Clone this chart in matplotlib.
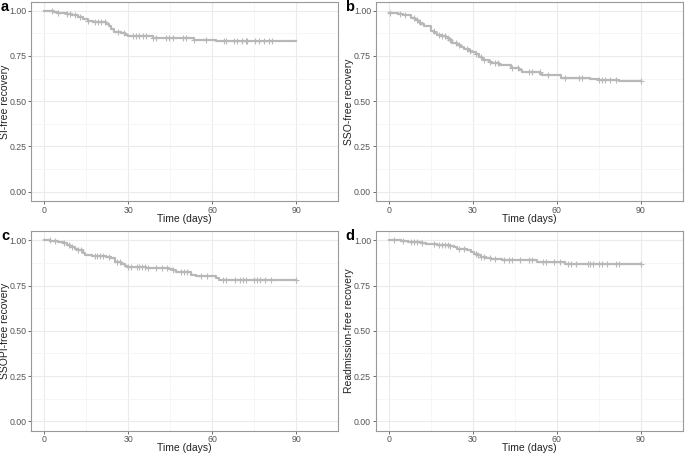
import numpy as np
import matplotlib
matplotlib.use("Agg")
import matplotlib.pyplot as plt

plt.rcParams['font.family'] = ['Liberation Sans', 'DejaVu Sans']

# ---- data ----
a_times = [0, 3.5, 5, 8, 10, 12, 14, 15.5, 17.5, 22, 23, 24, 25, 27.5, 29, 30, 38.8, 53.5, 61.5, 90]
a_surv  = [1.00, 0.995, 0.99, 0.98, 0.975, 0.965, 0.955, 0.945, 0.935, 0.925, 0.915, 0.90, 0.885,
           0.875, 0.865, 0.86, 0.85, 0.84, 0.833, 0.833]
a_cens  = [2.7, 5, 8, 9.2, 11, 12.8, 15.7, 18, 19.3, 20.4, 21.6, 26.4, 28.4, 31.7, 32.9, 34, 35.2,
           36.4, 39, 40, 43.5, 44.7, 45.9, 49.4, 50.6, 53.5, 57.7, 64.2, 64.8, 67.7, 68.9, 70.7,
           71.9, 72.5, 75.4, 76.6, 78.4, 80.1, 81.3]

b_times = [0, 1.4, 3.2, 5, 7.9, 9.5, 10.3, 11.1, 12.7, 15, 16.2, 17.4, 19, 20.4, 21.6, 22.5, 24.2,
           25.7, 26.9, 28.7, 29.9, 31, 32.2, 33.2, 34, 35.8, 37, 39.3, 43.5, 46.4, 47.6, 54.1, 54.7,
           61.3, 71.9, 74.9, 82, 90]
b_surv  = [0.99, 0.987, 0.98, 0.975, 0.96, 0.95, 0.94, 0.925, 0.915, 0.886, 0.877, 0.868, 0.86,
           0.85, 0.84, 0.82, 0.81, 0.80, 0.79, 0.78, 0.77, 0.76, 0.745, 0.735, 0.725, 0.715, 0.71,
           0.70, 0.685, 0.675, 0.66, 0.65, 0.645, 0.63, 0.625, 0.62, 0.612, 0.612]
b_cens  = [0.5, 4, 6, 9, 10, 11, 16, 18, 19, 20, 21, 22, 24, 25, 28, 29, 31, 33, 34, 36, 38, 39,
           44, 46, 50, 51, 54, 57, 63, 68, 69, 75, 76, 77, 79, 81, 90]

c_times = [0, 2.1, 5, 6.9, 8, 9.3, 11, 12, 14, 14.5, 17, 22.2, 24, 25.2, 27.5, 28.7, 29.9, 36.4,
           44.7, 45.9, 47, 52.4, 54.1, 60, 61.2, 62.4, 90]
c_surv  = [1.00, 0.997, 0.99, 0.983, 0.972, 0.963, 0.954, 0.945, 0.93, 0.92, 0.915, 0.908, 0.90,
           0.88, 0.87, 0.86, 0.853, 0.845, 0.84, 0.833, 0.825, 0.81, 0.805, 0.80, 0.79, 0.779, 0.779]
c_cens  = [2, 4, 7, 9, 10, 12, 13, 18, 19, 20, 21, 23, 26, 27, 30, 31, 33, 34, 35, 36, 37, 40,
           42, 44, 46, 49, 50, 51, 56, 58, 64, 65, 68, 70, 71, 72, 75, 76, 77, 79, 81, 90]

d_times = [0, 4.4, 6.8, 9.1, 11.5, 13.3, 15, 17.4, 21.6, 23.3, 24.5, 28, 29.3, 30.5, 31.6, 32.8,
           34.6, 36.4, 40.5, 53, 63, 64.2, 90]
d_surv  = [1.00, 0.996, 0.993, 0.989, 0.985, 0.982, 0.978, 0.972, 0.967, 0.96, 0.952, 0.945,
           0.934, 0.926, 0.917, 0.908, 0.903, 0.897, 0.893, 0.882, 0.871, 0.868, 0.868]
d_cens  = [2, 5, 8, 9, 10, 12, 16, 18, 19, 20, 21, 22, 25, 27, 31, 32, 33, 34, 36, 38, 41, 43,
           44, 47, 50, 51, 55, 56, 59, 61, 64, 65, 67, 71, 72, 73, 75, 76, 78, 81, 82, 90]

panels = [
    ("a", "SI-free recovery", a_times, a_surv, a_cens),
    ("b", "SSO-free recovery", b_times, b_surv, b_cens),
    ("c", "SSOPI-free recovery", c_times, c_surv, c_cens),
    ("d", "Readmission-free recovery", d_times, d_surv, d_cens),
]
x_ticks = [0, 30, 60, 90]
y_ticks = [0.0, 0.25, 0.50, 0.75, 1.00]
y_ticklabels = ["0.00", "0.25", "0.50", "0.75", "1.00"]

W, H = 685, 454
fig = plt.figure(figsize=(W / 100, H / 100), dpi=100)

boxes = [  # left, top, right, bottom in pixels
    (31, 1.5, 338.3, 201.3),
    (375.5, 1.5, 683, 201.3),
    (31, 231, 338.3, 431),
    (375.5, 231, 683, 431),
]

line_col = "#b8b8b8"
for (letter, ylabel, t, s, cens), (l, tp, r, b) in zip(panels, boxes):
    ax = fig.add_axes([l / W, (H - b) / H, (r - l) / W, (b - tp) / H])
    ax.set_xlim(-4.7, 104.4)
    ax.set_ylim(-0.053, 1.051)
    ax.set_xticks(x_ticks)
    ax.set_xticks([15, 45, 75, 105], minor=True)
    ax.set_yticks(y_ticks)
    ax.set_yticklabels(y_ticklabels)
    ax.set_yticks([0.125, 0.375, 0.625, 0.875], minor=True)
    ax.grid(which="major", color="#ebebeb", linewidth=0.8)
    ax.grid(which="minor", color="#f3f3f3", linewidth=0.5)
    ax.set_axisbelow(True)
    ax.tick_params(which="major", length=2.2, width=0.6, color="#555555",
                   labelsize=6.3, labelcolor="#555555", pad=1.0)
    ax.tick_params(which="minor", length=0)
    for sp in ax.spines.values():
        sp.set_color("#999999")
        sp.set_linewidth(0.8)
    ta = np.array(t)
    sa = np.array(s)
    ax.step(ta, sa, where="post", color=line_col, linewidth=1.6, zorder=3)
    ca = np.array(cens)
    idx = np.searchsorted(ta, ca, side="right") - 1
    ax.plot(ca, sa[idx], linestyle="none", marker="+", markersize=4.5,
            markeredgewidth=0.8, color=line_col, zorder=3)
    ax.set_xlabel("Time (days)", fontsize=7.5, color="#222222")
    ax.xaxis.set_label_coords(0.5, -(218.5 - 201.3) / (b - tp))
    ax.xaxis.label.set_va("center")
    ax.set_ylabel(ylabel, fontsize=7.5, color="#222222")
    ax.yaxis.set_label_coords(-26.5 / (r - l), 0.5)
    ax.yaxis.label.set_va("center")
    fig.text((l - 30) / W, (H - tp - 9.5) / H, letter, fontsize=10.5, fontweight="bold",
             ha="left", va="baseline", color="black")

fig.savefig("out.png", dpi=100)
